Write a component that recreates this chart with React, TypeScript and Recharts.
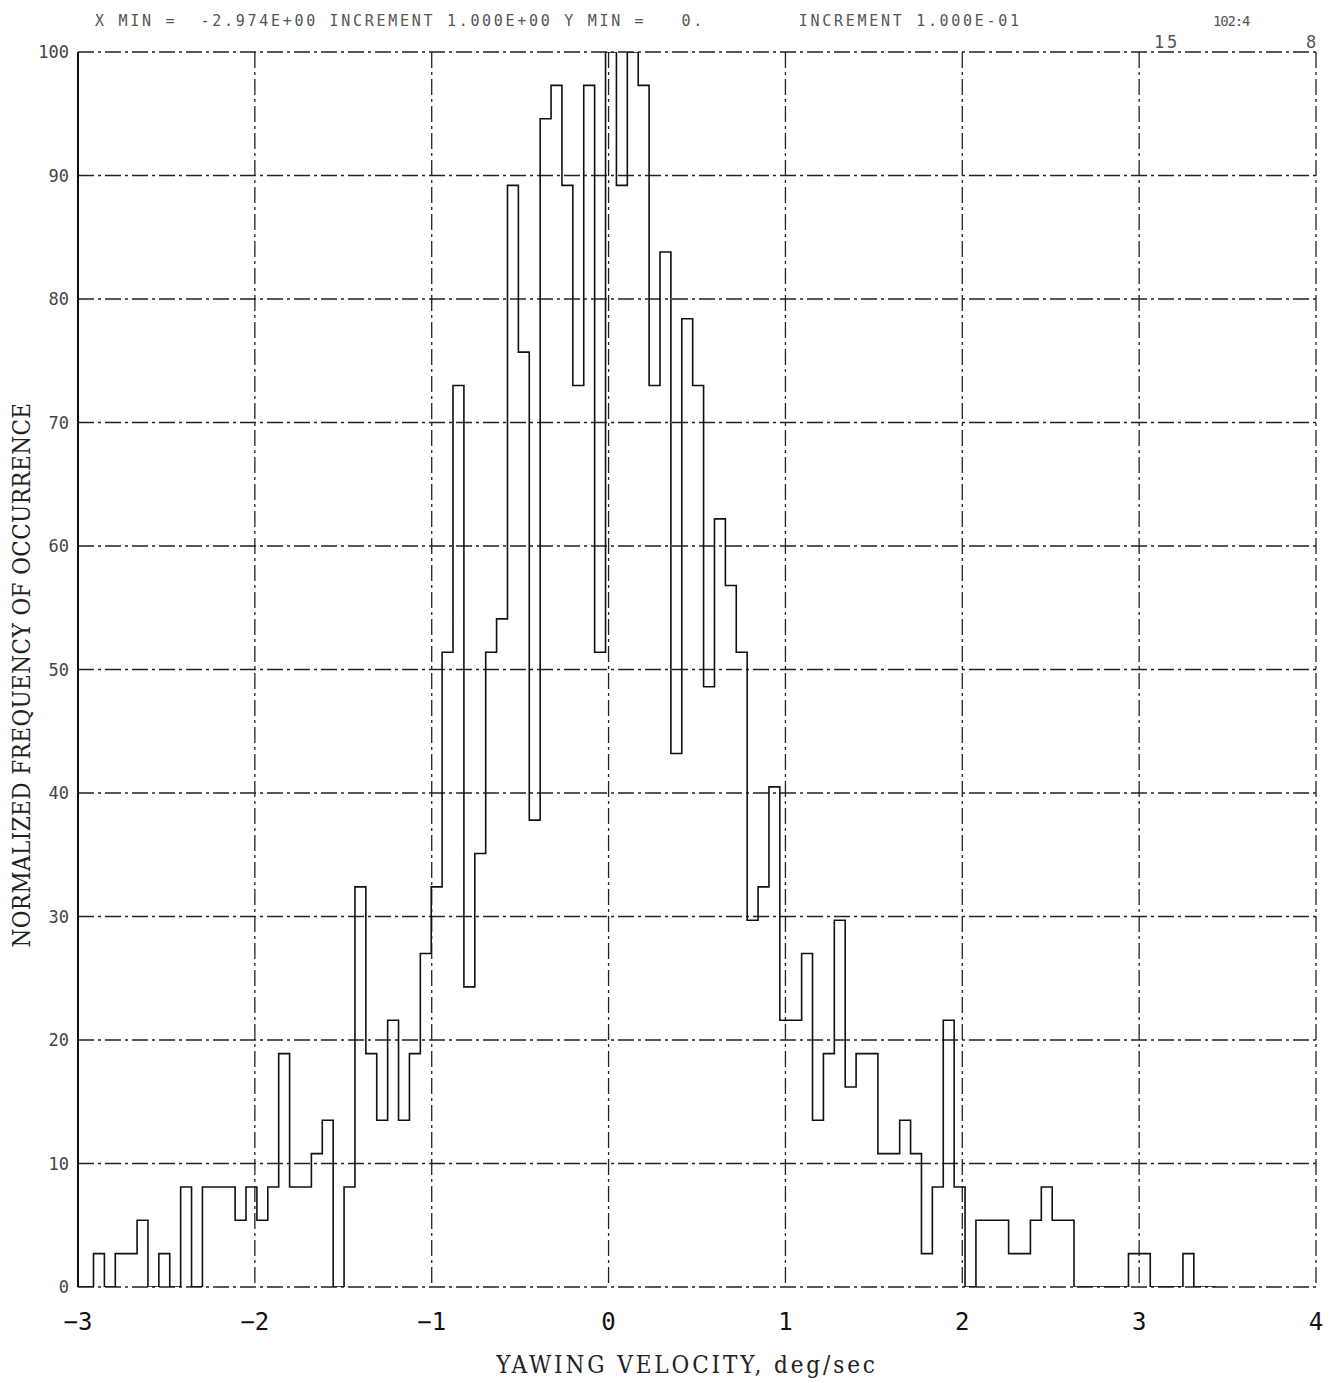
import { LineChart, Line, XAxis, YAxis, CartesianGrid } from "recharts"

// histogram header values
const BIN_START = -2.974
const BIN_WIDTH = 0.0616

// normalized frequency per bin (left to right)
const binValues = [
  0, 2.7, 0, 2.7, 2.7, 5.4, 0, 2.7, 0, 8.1,
  0, 8.1, 8.1, 8.1, 5.4, 8.1, 5.4, 8.1, 18.9, 8.1,
  8.1, 10.8, 13.5, 0, 8.1, 32.4, 18.9, 13.5, 21.6, 13.5,
  18.9, 27.0, 32.4, 51.4, 73.0, 24.3, 35.1, 51.4, 54.1, 89.2,
  75.7, 37.8, 94.6, 97.3, 89.2, 73.0, 97.3, 51.4, 100, 89.2,
  100, 97.3, 73.0, 83.8, 43.2, 78.4, 73.0, 48.6, 62.2, 56.8,
  51.4, 29.7, 32.4, 40.5, 21.6, 21.6, 27.0, 13.5, 18.9, 29.7,
  16.2, 18.9, 18.9, 10.8, 10.8, 13.5, 10.8, 2.7, 8.1, 21.6,
  8.1, 0, 5.4, 5.4, 5.4, 2.7, 2.7, 5.4, 8.1, 5.4,
  5.4, 0, 0, 0, 0, 0, 2.7, 2.7, 0, 0,
  0, 2.7, 0, 0,
]

const xTicks = [-3, -2, -1, 0, 1, 2, 3, 4]
const yTicks = [0, 10, 20, 30, 40, 50, 60, 70, 80, 90, 100]

const headerLine = "X MIN =  -2.974E+00 INCREMENT 1.000E+00 Y MIN =   0.        INCREMENT 1.000E-01"
const headerId = "102:4"
const cornerMarks = ["15", "8"]
const xTitle = "YAWING VELOCITY, deg/sec"
const yTitle = "NORMALIZED FREQUENCY OF OCCURRENCE"

const chartData = [
  { x: -3, freq: 0 },
  ...binValues.map((v, i) => ({ x: BIN_START + i * BIN_WIDTH, freq: v })),
  { x: BIN_START + binValues.length * BIN_WIDTH, freq: 0 },
]

const W = 1316
const H = 1370

const dotFont = {
  position: "absolute" as const,
  fontFamily: "'DejaVu Sans Mono', monospace",
  fontSize: 15,
  letterSpacing: 2.7,
  color: "#555",
  whiteSpace: "pre" as const,
  lineHeight: 1,
}

const titleFont = {
  position: "absolute" as const,
  fontFamily: "'DejaVu Serif', serif",
  fontStretch: "condensed",
  fontSize: 24,
  color: "#222",
  whiteSpace: "pre" as const,
  lineHeight: 1,
}

export default function App() {
  return (
    <div style={{ position: "relative", width: W, height: H, background: "#fff" }}>
      <div style={{ ...dotFont, left: 87, top: 6 }}>{headerLine}</div>
      <div style={{ ...dotFont, left: 1205, top: 6, fontSize: 14, letterSpacing: -1.2 }}>{headerId}</div>
      <div style={{ ...dotFont, left: 1146, top: 26, fontSize: 17 }}>{cornerMarks[0]}</div>
      <div style={{ ...dotFont, left: 1298, top: 26, fontSize: 17 }}>{cornerMarks[1]}</div>

      <LineChart width={W} height={H} data={chartData} margin={{ top: 44, right: 8, left: 8, bottom: 31 }}>
        <CartesianGrid stroke="#222" strokeWidth={1.3} strokeDasharray="16 4 3 4" />
        <XAxis
          dataKey="x"
          type="number"
          domain={[-3, 4]}
          ticks={xTicks}
          allowDataOverflow
          axisLine={false}
          tickLine={false}
          tickSize={0}
          tickMargin={26}
          height={60}
          tick={{ fill: "#111", fontSize: 24, fontFamily: "'DejaVu Sans Mono', monospace" }}
          tickFormatter={(v: number) => (v < 0 ? `\u2212${Math.abs(v)}` : `${v}`)}
        />
        <YAxis
          type="number"
          domain={[0, 100]}
          ticks={yTicks}
          allowDataOverflow
          width={62}
          axisLine={{ stroke: "#111", strokeWidth: 2 }}
          tickLine={false}
          tickSize={0}
          tickMargin={9}
          tick={{ fill: "#444", fontSize: 17, fontFamily: "'DejaVu Sans Mono', monospace" }}
        />
        <Line
          type="stepAfter"
          dataKey="freq"
          stroke="#111"
          strokeWidth={1.6}
          dot={false}
          isAnimationActive={false}
        />
      </LineChart>

      <div
        style={{
          ...titleFont,
          letterSpacing: 0.4,
          left: 14,
          top: 667,
          transform: "translate(-50%, -50%) rotate(-90deg)",
        }}
      >
        {yTitle}
      </div>
      <div
        style={{
          ...titleFont,
          letterSpacing: 2.9,
          left: 679,
          top: 1357,
          transform: "translate(-50%, -50%)",
        }}
      >
        {xTitle}
      </div>
    </div>
  )
}
